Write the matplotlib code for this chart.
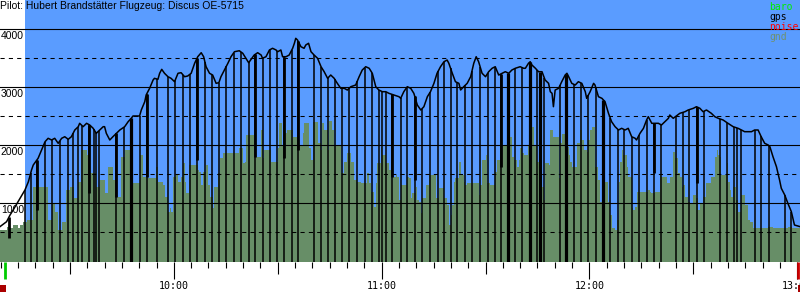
import matplotlib
matplotlib.use("Agg")
import matplotlib.pyplot as plt
from matplotlib.patches import Rectangle
import numpy as np

# time axis: minutes after 09:00, altitude in metres
title = "Pilot: Hubert Brandstätter Flugzeug: Discus OE-5715"

baro_t = [9.8, 11.7, 12.7, 13.6, 15.6, 17.0, 18.0, 18.9, 19.4, 20.8,
          21.8, 22.8, 23.7, 24.7, 25.6, 26.6, 27.6, 28.5, 29.5, 30.4,
          31.4, 32.4, 32.8, 33.8, 34.8, 35.7, 36.7, 37.6, 38.6, 39.6,
          40.0, 40.5, 41.5, 42.4, 43.4, 44.4, 45.8, 46.8, 47.7, 48.2,
          50.1, 50.6, 51.6, 52.0, 53.0, 54.0, 54.4, 55.4, 55.9, 56.5,
          57.3, 57.8, 58.3, 59.2, 60.2, 61.2, 62.1, 63.1, 64.0, 65.0,
          66.0, 66.9, 67.9, 68.6, 69.3, 70.3, 71.2, 72.2, 73.0, 73.6,
          74.6, 75.6, 76.5, 77.5, 78.9, 79.9, 80.8, 81.6, 82.3, 83.2,
          84.2, 85.2, 85.6, 86.6, 87.6, 88.5, 89.5, 90.0, 90.9, 91.4,
          92.4, 93.3, 93.8, 94.3, 94.8, 95.2, 95.7, 96.7, 97.6, 98.1,
          98.9, 99.6, 100.5, 101.5, 102.5, 103.4, 104.4, 105.3, 106.3, 107.2,
          108.2, 109.2, 110.1, 111.1, 112.5, 113.5, 114.4, 115.4, 116.4, 117.3,
          118.3, 119.2, 120.2, 121.2, 122.1, 123.6, 125.0, 125.5, 126.4, 127.4,
          128.4, 129.3, 130.3, 131.3, 132.2, 133.2, 134.1, 135.1, 136.0, 137.0,
          138.0, 138.9, 139.4, 140.4, 141.3, 142.3, 142.8, 143.7, 144.7, 145.7,
          146.6, 147.3, 148.0, 149.0, 150.0, 150.9, 151.9, 152.8, 153.8, 154.8,
          155.7, 156.7, 157.6, 158.6, 160.0, 161.0, 161.5, 162.4, 162.9, 163.4,
          164.4, 165.3, 166.3, 167.2, 168.2, 168.7, 169.2, 169.6, 170.1, 171.1,
          172.0, 173.0, 173.5, 174.0, 174.9, 175.9, 176.8, 177.8, 178.8, 179.2,
          180.2, 181.2, 181.6, 182.6, 183.6, 184.5, 185.5, 186.4, 187.4, 188.4,
          189.3, 190.3, 191.2, 192.2, 193.2, 193.6, 194.6, 195.6, 196.5, 197.0,
          198.0, 198.9, 199.9, 200.8, 201.8, 202.8, 203.2, 204.2, 205.1, 206.1,
          207.6, 208.5, 210.0, 210.9, 211.9, 212.8, 213.8, 215.2, 216.2, 217.2,
          218.6, 220.0, 221.5, 222.9, 223.9, 224.8, 225.8, 226.8, 227.7, 228.7,
          229.6, 230.6, 231.6, 232.1, 233.0, 234.0, 234.9, 235.4, 236.4, 237.3,
          238.3, 239.2, 240.8]
baro_alt = [600, 685, 800, 886, 1087, 1230, 1373, 1574, 1660, 1776,
            1918, 2061, 2120, 2091, 2120, 2034, 2120, 2147, 2103, 2147,
            2263, 2320, 2378, 2320, 2378, 2349, 2292, 2206, 2263, 2320,
            2320, 2206, 2091, 2147, 2206, 2263, 2320, 2406, 2464, 2504,
            2504, 2607, 2750, 2865, 2980, 3123, 3152, 3135, 3239, 3307,
            3239, 3209, 3180, 3152, 3094, 3239, 3249, 3180, 3192, 3239,
            3411, 3524, 3593, 3524, 3352, 3239, 3209, 3066, 3077, 3180,
            3295, 3411, 3524, 3610, 3627, 3583, 3497, 3421, 3479, 3553,
            3593, 3553, 3497, 3524, 3640, 3669, 3640, 3610, 3640, 3524,
            3524, 3553, 3610, 3669, 3755, 3841, 3812, 3696, 3669, 3726,
            3755, 3610, 3553, 3497, 3352, 3266, 3152, 3209, 3152, 3066,
            2980, 2980, 2951, 3008, 3037, 3180, 3295, 3352, 3325, 3239,
            3008, 2951, 2922, 2922, 2894, 2865, 2836, 2808, 2922, 3008,
            2980, 2894, 2693, 2607, 2664, 2836, 2922, 3066, 3239, 3352,
            3438, 3467, 3411, 3239, 3094, 3066, 2951, 3008, 3066, 3180,
            3411, 3524, 3438, 3239, 3180, 3266, 3325, 3352, 3209, 3239,
            3266, 3239, 3295, 3325, 3352, 3325, 3325, 3411, 3438, 3381,
            3325, 3266, 3266, 3123, 3066, 2922, 2894, 2664, 2951, 2980,
            3094, 3209, 3239, 3180, 3066, 3037, 3094, 3066, 2922, 2808,
            2922, 3066, 3037, 2836, 2808, 2750, 2550, 2406, 2320, 2263,
            2292, 2263, 2292, 2147, 2120, 2091, 2206, 2292, 2435, 2492,
            2378, 2378, 2378, 2349, 2406, 2464, 2521, 2464, 2504, 2550,
            2578, 2607, 2636, 2664, 2636, 2578, 2607, 2550, 2492, 2464,
            2435, 2378, 2320, 2292, 2263, 2234, 2234, 2234, 2263, 2263,
            2147, 2034, 2005, 1976, 1803, 1631, 1402, 1260, 1144, 1001,
            857, 628, 600]

gnd_t = [9.8, 11.7, 12.5, 13.6, 15.1, 15.6, 16.5, 17.5, 19.4, 23.7,
         24.7, 25.6, 26.6, 27.6, 29.0, 30.0, 31.1, 32.4, 33.3, 34.8,
         35.7, 37.6, 38.6, 40.0, 41.0, 42.4, 43.4, 44.8, 45.8, 47.2,
         47.7, 50.1, 51.1, 52.0, 54.9, 55.4, 56.8, 57.3, 58.3, 58.8,
         59.3, 59.7, 60.7, 61.2, 62.1, 62.6, 63.1, 63.6, 64.5, 66.9,
         67.4, 67.9, 68.4, 69.3, 69.8, 70.3, 71.2, 71.7, 72.7, 73.2,
         74.1, 78.9, 79.9, 80.4, 80.8, 83.2, 85.2, 85.6, 86.1, 88.1,
         90.0, 90.4, 91.2, 91.9, 92.8, 94.3, 96.2, 97.2, 97.6, 99.1,
         99.6, 100.3, 101.5, 102.5, 102.9, 103.4, 104.4, 104.8, 105.8, 106.3,
         108.2, 109.2, 110.1, 111.1, 112.0, 113.0, 114.0, 115.9, 116.4, 116.8,
         117.8, 118.3, 118.8, 119.7, 120.2, 121.2, 122.1, 122.6, 123.1, 124.1,
         124.5, 125.0, 125.5, 127.4, 127.9, 128.4, 128.8, 129.8, 130.3, 130.8,
         131.3, 131.7, 132.7, 133.6, 135.6, 136.5, 138.0, 138.9, 139.4, 139.9,
         140.4, 140.8, 141.3, 142.3, 142.8, 143.7, 144.2, 144.7, 148.0, 148.5,
         149.0, 150.0, 150.4, 151.4, 152.8, 153.3, 154.3, 156.2, 156.7, 157.6,
         158.1, 159.1, 159.6, 160.0, 160.5, 161.0, 162.4, 163.4, 163.9, 164.8,
         165.8, 166.3, 166.8, 167.2, 168.2, 168.7, 169.6, 171.1, 171.6, 172.0,
         173.0, 173.5, 174.0, 174.4, 174.9, 176.4, 177.3, 177.8, 178.3, 179.2,
         179.7, 180.2, 180.7, 181.6, 182.6, 183.1, 184.0, 184.5, 185.5, 186.0,
         186.4, 187.4, 187.9, 188.4, 188.8, 189.3, 189.8, 190.8, 191.2, 192.2,
         192.7, 193.2, 193.6, 197.0, 197.4, 197.9, 198.9, 200.4, 200.8, 202.3,
         203.2, 204.2, 204.7, 205.6, 206.1, 206.6, 207.1, 207.6, 208.5, 209.0,
         210.0, 210.9, 211.4, 211.9, 212.8, 213.8, 215.2, 216.2, 216.7, 217.2,
         217.6, 218.1, 219.6, 220.0, 220.5, 221.0, 221.5, 222.4, 222.9, 223.9,
         224.8, 225.8, 226.3, 227.2, 231.6, 233.0, 237.3, 238.5, 240.8]
gnd_alt = [542, 599, 571, 628, 571, 628, 685, 714, 1287, 714,
           1001, 857, 542, 685, 1230, 1287, 1087, 1373, 1919, 1832,
           1517, 1287, 1402, 1173, 1631, 1402, 1115, 1803, 1919, 1889,
           1345, 1832, 1459, 1431, 1631, 1373, 1316, 1115, 857, 915,
           857, 1459, 1488, 1373, 1459, 1690, 1373, 1173, 1660, 1574,
           1545, 1316, 1545, 1660, 1316, 1115, 915, 1287, 1517, 1776,
           1862, 1948, 1690, 1717, 2177, 1803, 2263, 1776, 1919, 1717,
           1948, 2378, 2005, 2206, 2263, 2147, 2005, 2206, 2378, 1948,
           1746, 2406, 2034, 1919, 2388, 2263, 1919, 2423, 2263, 2005,
           1517, 1717, 1862, 1717, 1402, 1373, 1345, 1517, 1345, 1201,
           943, 1345, 1690, 1975, 1832, 1690, 1574, 1717, 1459, 1488,
           1459, 1058, 1316, 1459, 1431, 1087, 1173, 1287, 1058, 1029,
           829, 1087, 1316, 1488, 1087, 1259, 1087, 972, 628, 800,
           972, 1373, 1431, 1717, 1488, 1373, 1316, 1345, 1144, 1316,
           1746, 1832, 1345, 1316, 1545, 1746, 2005, 1803, 2147, 1803,
           1746, 1631, 1746, 1948, 1862, 1832, 2005, 2320, 2005, 1717,
           1690, 1287, 1058, 1690, 1660, 2263, 2147, 1431, 2034, 2194,
           2147, 1975, 1832, 1717, 1631, 2034, 2263, 2091, 1919, 1889,
           2091, 2263, 2320, 1631, 1402, 1029, 1517, 1373, 1029, 800,
           571, 542, 714, 1373, 1717, 1919, 1832, 1631, 1459, 915,
           886, 943, 1201, 1230, 1201, 1173, 1201, 1488, 1459, 1345,
           1459, 1889, 1776, 1517, 1459, 1287, 1316, 1115, 1029, 1001,
           1144, 1087, 886, 1001, 1115, 1345, 1459, 1803, 1919, 1832,
           1803, 1488, 1690, 1373, 1230, 1115, 1287, 1058, 857, 1144,
           972, 714, 685, 571, 599, 571, 599, 571, 571]

# fix markers dropped down to the ground
fix_t = [17.0, 18.7, 20.5, 22.8, 24.7, 27.1, 29.3, 30.9, 32.4, 33.6,
         35.5, 36.9, 37.6, 38.3, 43.4, 45.5, 50.1, 52.2, 55.2, 58.4,
         60.4, 62.6, 64.7, 66.7, 69.0, 71.1, 73.0, 75.2, 77.3, 79.4,
         81.8, 83.5, 85.6, 87.7, 89.8, 91.9, 94.1, 95.8, 100.5, 102.5,
         104.4, 106.4, 108.6, 110.6, 113.0, 115.1, 117.2, 119.2, 120.2, 121.3,
         123.1, 125.5, 127.4, 129.5, 131.7, 134.1, 136.3, 138.0, 139.9, 141.8,
         144.2, 146.1, 148.5, 150.6, 152.6, 154.6, 158.6, 160.5, 164.8, 167.0,
         171.6, 175.4, 177.6, 179.7, 181.8, 186.0, 188.2, 190.1, 192.2, 194.4,
         196.5, 198.7, 200.7, 204.9, 206.9, 208.8, 211.1, 213.1, 217.6, 219.8,
         221.8, 222.7, 223.7, 227.9, 229.5, 231.8, 236.4, 238.3]
thick_t = [47.7, 156.4, 162.9, 165.8, 173.3, 184.0]
spike_t = [12.4, 20.5, 35.5, 43.4, 52.2, 66.7, 83.5, 91.9, 95.9, 123.1, 129.5, 154.6, 198.7, 211.1]
spike_low = [400, 886, 1173, 1115, 1459, 1746, 1803, 1776, 1918, 1459, 1402, 1631, 1517, 1345]

takeoff_t = 11.2
landing_t = 240.2
hour_ticks = [60, 120, 180, 240]
hour_labels = ["10:00", "11:00", "12:00", "13:00"]
alt_solid = [1000, 2000, 3000, 4000]
alt_dashed = [500, 1500, 2500, 3500]
legend_items = ["baro", "gps", "noise", "gnd"]
legend_colors = ["#00ee00", "black", "red", "#6f916f"]

sky = "#5a9cff"
ground = "#678e67"

fig = plt.figure(figsize=(8, 3), dpi=100)
ax = fig.add_axes([0, 38.5 / 300, 1, 261.5 / 300])
ax.set_xlim(9.8, 240.8)
ax.set_ylim(0, 4500)
ax.set_axis_off()

ax.add_patch(Rectangle((25 / 800, 0), 1, 1, transform=ax.transAxes, color=sky, lw=0, zorder=0))
ax.fill_between(gnd_t, 0, gnd_alt, step="post", color=ground, lw=0, zorder=1)

for v in alt_solid:
    ax.axhline(v, color="black", lw=0.8, zorder=2)
for v in alt_dashed:
    ax.axhline(v, color="black", lw=0.75, ls=(0, (4, 4)), zorder=2)

ax.vlines(fix_t, 0, np.interp(fix_t, baro_t, baro_alt), color="black", lw=1.1, zorder=3)
ax.vlines(thick_t, 0, np.interp(thick_t, baro_t, baro_alt), color="black", lw=2.3, zorder=3)
ax.vlines(spike_t, spike_low, np.interp(spike_t, baro_t, baro_alt), color="black", lw=2.0, zorder=3)
ax.plot(baro_t, baro_alt, color="black", lw=1.1, zorder=4)

trans = ax.get_xaxis_transform()
ax_h = 261.5
for v in alt_solid:
    ax.text(0.001, v - 30, str(v), transform=ax.get_yaxis_transform(), va="top", ha="left",
            fontsize=7.5, family="Liberation Sans", zorder=5)

# time ticks every 5 minutes, longer on half hours and hours
tick_min = np.arange(10, 241, 5)
tick_len = np.where(tick_min % 60 == 0, 17, np.where(tick_min % 30 == 0, 12, 6)) / ax_h
ax.vlines(tick_min, -tick_len, 0, transform=trans, color="black", lw=0.8, clip_on=False)
for t, lab in zip(hour_ticks, hour_labels):
    ax.text(t, -19.5 / ax_h, lab, transform=trans, ha="center", va="top",
            fontsize=7.2, family="DejaVu Sans Mono", clip_on=False)

ax.vlines([takeoff_t], -17 / ax_h, 0, transform=trans, color="#00cc00", lw=2.0, clip_on=False)
ax.vlines([landing_t], -17 / ax_h, 0, transform=trans, color="#cc0000", lw=2.0, clip_on=False)
for t in [9.8, landing_t]:
    ax.add_patch(Rectangle((t, -30.5 / ax_h), 1.7, 7 / ax_h, transform=trans,
                           color="#aa0000", lw=0, clip_on=False))

fig.text(0.0, 1 - 1 / 300, title, va="top", ha="left", fontsize=7.5, family="Liberation Sans")
for i, (lab, c) in enumerate(zip(legend_items, legend_colors)):
    fig.text(769 / 800, 1 - (2 + 10 * i) / 300, lab, va="top", ha="left", color=c,
             fontsize=7, family="DejaVu Sans Mono")

fig.savefig("out.png", dpi=100)
